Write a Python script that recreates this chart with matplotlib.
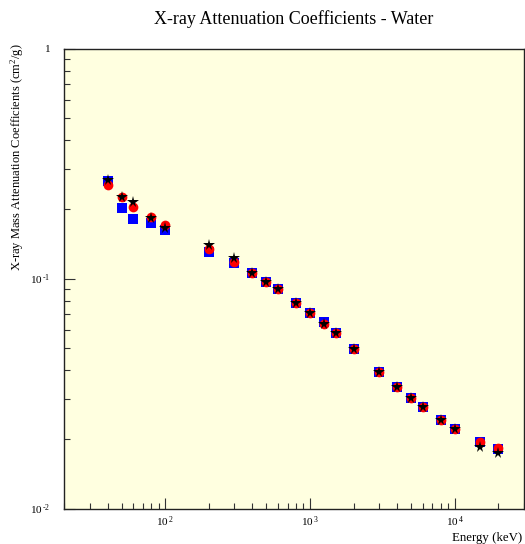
import matplotlib
matplotlib.use("Agg")
import matplotlib.pyplot as plt
from matplotlib.ticker import FuncFormatter, LogLocator
import numpy as np

plt.rcParams['font.family'] = ['Liberation Serif', 'DejaVu Serif']
plt.rcParams['mathtext.fontset'] = 'custom'
plt.rcParams['mathtext.rm'] = 'Liberation Serif'
plt.rcParams['mathtext.it'] = 'Liberation Serif:italic'

# energies (keV)
energy = [40, 50, 60, 80, 100, 200, 300, 400, 500, 600, 800, 1000, 1250, 1500,
          2000, 3000, 4000, 5000, 6000, 8000, 10000, 15000, 20000]

# reference values (black stars)
mu_ref = [0.268, 0.2268, 0.2145, 0.1827, 0.1653, 0.140, 0.1224, 0.106, 0.0962,
          0.0898, 0.0785, 0.0710, 0.0632, 0.0578, 0.0492, 0.0393, 0.0339,
          0.0301, 0.0277, 0.0243, 0.0222, 0.01846, 0.0175]
# red circles
mu_red = [0.255, 0.227, 0.205, 0.1845, 0.171, 0.134, 0.1176, 0.106, 0.0962,
          0.0898, 0.0785, 0.0710, 0.0632, 0.0578, 0.0492, 0.0393, 0.0339,
          0.0301, 0.0277, 0.0243, 0.0222, 0.01953, 0.01827]
# blue squares
mu_blue = [0.266, 0.202, 0.1815, 0.1738, 0.1625, 0.1308, 0.1164, 0.106, 0.0962,
           0.0898, 0.0785, 0.0710, 0.0645, 0.0578, 0.0492, 0.0393, 0.0339,
           0.0301, 0.0277, 0.0243, 0.0222, 0.0195, 0.0181]

fig = plt.figure(figsize=(5.25, 5.44), dpi=100)
ax = fig.add_axes([64/525, 1 - 508.5/544, 460/525, 460/544])
ax.set_facecolor('#ffffe0')

ax.plot(energy, mu_blue, 's', color='#0000ff', ms=6.5, mew=0, zorder=3)
ax.plot(energy, mu_red, 'o', color='#ff0000', ms=7, mew=0, zorder=4)
ax.plot(energy, mu_ref, '*', color='black', ms=8.5, mew=0, zorder=5)

ax.set_xscale('log')
ax.set_yscale('log')
ax.set_xlim(20, 30000)
ax.set_ylim(0.01, 1)


def pow_fmt(v, pos):
    e = int(round(np.log10(v)))
    if e == 0:
        return '1'
    return r'10$^{\,%s}$' % (str(e).replace('-', r'\text{-}'))


ax.xaxis.set_major_locator(LogLocator(base=10, numticks=10))
ax.yaxis.set_major_locator(LogLocator(base=10, numticks=10))
ax.xaxis.set_major_formatter(FuncFormatter(pow_fmt))
ax.yaxis.set_major_formatter(FuncFormatter(pow_fmt))
ax.xaxis.set_minor_formatter(FuncFormatter(lambda v, p: ''))
ax.yaxis.set_minor_formatter(FuncFormatter(lambda v, p: ''))

ax.tick_params(which='both', direction='in', top=False, right=False,
               labelsize=8, color='#333333')
ax.tick_params(which='major', length=8, width=0.8)
ax.tick_params(which='minor', length=4, width=0.8)
ax.tick_params(axis='x', pad=4)
ax.tick_params(axis='y', pad=10)

for s in ax.spines.values():
    s.set_linewidth(1.0)
    s.set_color('#222222')

ax.set_title('X-ray Attenuation Coefficients - Water', fontsize=13, pad=18)
ax.set_xlabel('Energy (keV)', fontsize=9.3, ha='right', va='top')
ax.xaxis.set_label_coords(0.996, -0.05)
ax.set_ylabel('X-ray Mass Attenuation Coefficients (cm$^2$/g)', fontsize=9,
              ha='right')
ax.yaxis.set_label_coords(-0.083, 1.012)

fig.savefig('out.png', dpi=100)
